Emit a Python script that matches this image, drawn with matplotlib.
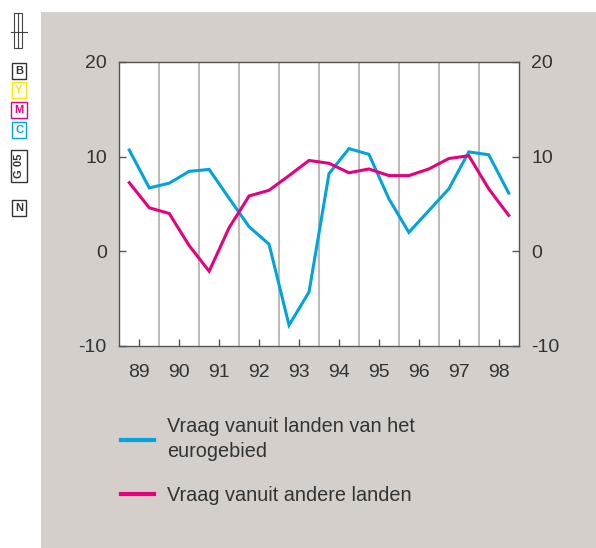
import numpy as np
import matplotlib.pyplot as plt
from matplotlib.patches import Rectangle
from matplotlib.lines import Line2D

plt.rcParams['font.family'] = ['Liberation Sans', 'DejaVu Sans']

# half-year observations, 1989 - 1998
x_pos = [89.25 + 0.5 * i for i in range(20)]
euro = [10.7, 6.7, 7.2, 8.45, 8.65, 5.6, 2.6, 0.75, -7.8, -4.3,
        8.2, 10.85, 10.25, 5.55, 2.0, 4.3, 6.6, 10.5, 10.2, 6.15]
other = [7.25, 4.6, 4.0, 0.6, -2.1, 2.5, 5.85, 6.45, 8.0, 9.6,
         9.3, 8.3, 8.7, 8.0, 8.0, 8.7, 9.8, 10.1, 6.6, 3.8]
years = ["89", "90", "91", "92", "93", "94", "95", "96", "97", "98"]
y_ticks = [-10, 0, 10, 20]
labels = ["Vraag vanuit landen van het\neurogebied", "Vraag vanuit andere landen"]

blue = "#00a3dd"
pink = "#e5007d"
bg = "#d4cfcb"
txt = "#333333"
W, H = 596, 548

fig = plt.figure(figsize=(W / 100, H / 100), dpi=100)
fig.patch.set_facecolor("white")

# grey panel
fig.patches.append(Rectangle((41 / W, 0), 1, 1 - 12 / H, transform=fig.transFigure,
                             facecolor=bg, edgecolor="none", zorder=-10))

ax = fig.add_axes([119.3 / W, 1 - 346 / H, 399.4 / W, 284 / H])
ax.set_facecolor("white")
ax.plot(x_pos, euro, color=blue, lw=2.2, solid_joinstyle="miter")
ax.plot(x_pos, other, color=pink, lw=2.2, solid_joinstyle="miter")

ax.set_xlim(89, 99)
ax.set_ylim(-10, 20)
ax.set_yticks(y_ticks)
ax.set_yticklabels([str(v) for v in y_ticks])
ax.set_xticks([89.5 + i for i in range(10)])
ax.set_xticklabels(years)
ax.set_xticks(range(90, 99), minor=True)
ax.grid(which="minor", axis="x", color="#b9b3ae", lw=1.3)
ax.tick_params(axis="x", which="major", direction="in", length=5, width=1,
               color="#555555", labelsize=14, labelcolor=txt, pad=13)
ax.tick_params(axis="x", which="minor", length=0)
ax.tick_params(axis="y", direction="in", length=5, width=1, color="#555555",
               left=True, right=True, labelleft=True, labelright=True,
               labelsize=14, labelcolor=txt, pad=9)
for s in ax.spines.values():
    s.set_color("#555555")
    s.set_linewidth(1)

handles = [Line2D([], [], color=blue, lw=3), Line2D([], [], color=pink, lw=3)]
leg = fig.legend(handles, labels, loc="upper left", bbox_to_anchor=(121 / W, 1 - 417 / H),
                 frameon=False, fontsize=14.3, handlelength=1.66, handletextpad=0.65,
                 labelspacing=1.25, labelcolor=txt, borderpad=0, borderaxespad=0)
for t in leg.get_texts():
    t.set_linespacing(1.4)

# printer marks in the left margin
fig.add_artist(Rectangle((14 / W, 1 - 48 / H), 8 / W, 35 / H, transform=fig.transFigure,
                         facecolor="none", edgecolor="#444444", lw=0.8))
fig.add_artist(Line2D([18 / W, 18 / W], [1 - 48 / H, 1 - 13 / H], transform=fig.transFigure,
                      color="#444444", lw=0.8))
fig.add_artist(Line2D([11 / W, 27 / W], [1 - 32 / H, 1 - 32 / H], transform=fig.transFigure,
                      color="#444444", lw=0.8))
marks = [("B", 71, "#333333", 0), ("Y", 90, "#ffe600", 0), ("M", 110, "#e5007d", 0),
         ("C", 130, "#00a3dd", 0), ("G 05", 166, "#333333", 90), ("N", 208, "#333333", 0)]
for t, yy, c, rot in marks:
    fig.text(19 / W, 1 - yy / H, t, color=c, fontsize=8, fontweight="bold", rotation=rot,
             ha="center", va="center",
             bbox=dict(boxstyle="square,pad=0.3", facecolor="white", edgecolor=c, lw=1))

fig.savefig("out.png", dpi=100)
